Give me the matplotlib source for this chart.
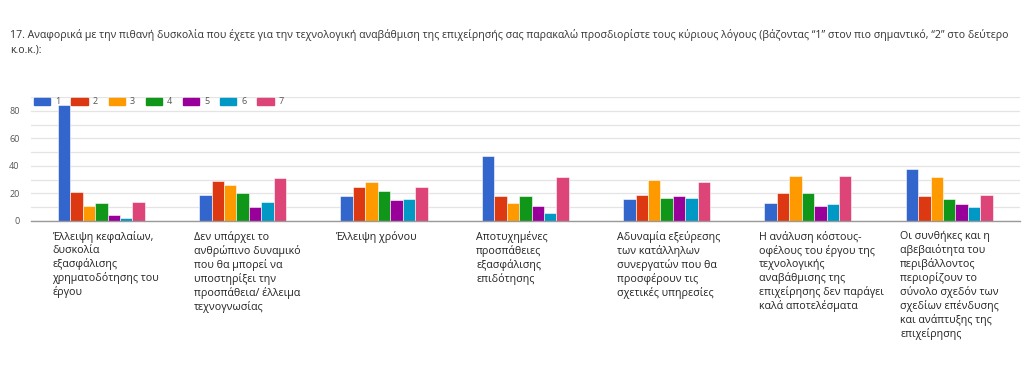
import matplotlib
matplotlib.use('Agg')
import matplotlib.pyplot as plt
import matplotlib.patches as mpatches
import matplotlib.transforms as mtransforms
import numpy as np

plt.rcParams['font.family'] = ['Open Sans', 'DejaVu Sans']

title = ('17. Αναφορικά με την πιθανή δυσκολία που έχετε για την τεχνολογική αναβάθμιση της επιχείρησής σας '
         'παρακαλώ προσδιορίστε τους κύριους λόγους (βάζοντας “1” στον πιο σημαντικό, “2” στο δεύτερο\nκ.ο.κ.):')

categories = [
    'Έλλειψη κεφαλαίων,\nδυσκολία\nεξασφάλισης\nχρηματοδότησης του\nέργου',
    'Δεν υπάρχει το\nανθρώπινο δυναμικό\nπου θα μπορεί να\nυποστηρίξει την\nπροσπάθεια/ έλλειμα\nτεχνογνωσίας',
    'Έλλειψη χρόνου',
    'Αποτυχημένες\nπροσπάθειες\nεξασφάλισης\nεπιδότησης',
    'Αδυναμία εξεύρεσης\nτων κατάλληλων\nσυνεργατών που θα\nπροσφέρουν τις\nσχετικές υπηρεσίες',
    'Η ανάλυση κόστους-\nοφέλους του έργου της\nτεχνολογικής\nαναβάθμισης της\nεπιχείρησης δεν παράγει\nκαλά αποτελέσματα',
    'Οι συνθήκες και η\nαβεβαιότητα του\nπεριβάλλοντος\nπεριορίζουν το\nσύνολο σχεδόν των\nσχεδίων επένδυσης\nκαι ανάπτυξης της\nεπιχείρησης',
]

series_names = ['1', '2', '3', '4', '5', '6', '7']
rank1 = [84, 19, 18, 47, 16, 13, 38]
rank2 = [21, 29, 25, 18, 19, 20, 18]
rank3 = [11, 26, 28, 13, 30, 33, 32]
rank4 = [13, 20, 22, 18, 17, 20, 16]
rank5 = [4, 10, 15, 11, 18, 11, 12]
rank6 = [2, 14, 16, 6, 17, 12, 10]
rank7 = [14, 31, 25, 32, 28, 33, 19]
values = [rank1, rank2, rank3, rank4, rank5, rank6, rank7]

colors = ['#3366cc', '#dc3912', '#ff9900', '#109618', '#990099', '#0099c6', '#dd4477']

fig = plt.figure(figsize=(10.24, 3.84), dpi=100)
ax = fig.add_axes([0.030, 0.4245, 0.966, 0.3225])

x = np.arange(len(categories))
w = 0.088
for i, vals in enumerate(values):
    ax.bar(x - 3 * w + i * w, vals, width=w, color=colors[i], edgecolor='white', linewidth=0.4, zorder=3)

ax.set_xlim(-0.5, len(categories) - 0.5)
ax.set_ylim(0, 90)
ax.set_yticks([0, 20, 40, 60, 80])
ax.set_yticks(np.arange(10, 91, 20), minor=True)
ax.grid(axis='y', which='both', color='#e4e4e4', linewidth=0.9, zorder=0)
ax.tick_params(axis='y', which='both', length=0, labelsize=6.5, labelcolor='#555555', pad=8)
ax.set_xticks([])
for s in ['top', 'right', 'left']:
    ax.spines[s].set_visible(False)
ax.spines['bottom'].set_color('#999999')
ax.spines['bottom'].set_linewidth(1.0)
ax.spines['bottom'].set_zorder(4)

# category labels under each group
trans = mtransforms.blended_transform_factory(ax.transData, fig.transFigure)
for xi, lab in zip(x, categories):
    ax.text(xi - 3.5 * w - 0.04, 1 - 231 / 384, lab, transform=trans, ha='left', va='top',
            fontsize=7.7, color='#222222', linespacing=1.22)

fig.text(10 / 1024, 1 - 29 / 384, title, ha='left', va='top', fontsize=7.6, color='#333333', linespacing=1.4)

handles = [mpatches.Patch(color=c, label=n) for c, n in zip(colors, series_names)]
fig.legend(handles=handles, loc='center left', bbox_to_anchor=(26 / 1024, 1 - 102 / 384), ncol=7,
           frameon=False, fontsize=6.5, handlelength=1.8, handleheight=0.7, handletextpad=0.55,
           columnspacing=1.2, labelcolor='#555555')

fig.savefig('out.png', dpi=100)
